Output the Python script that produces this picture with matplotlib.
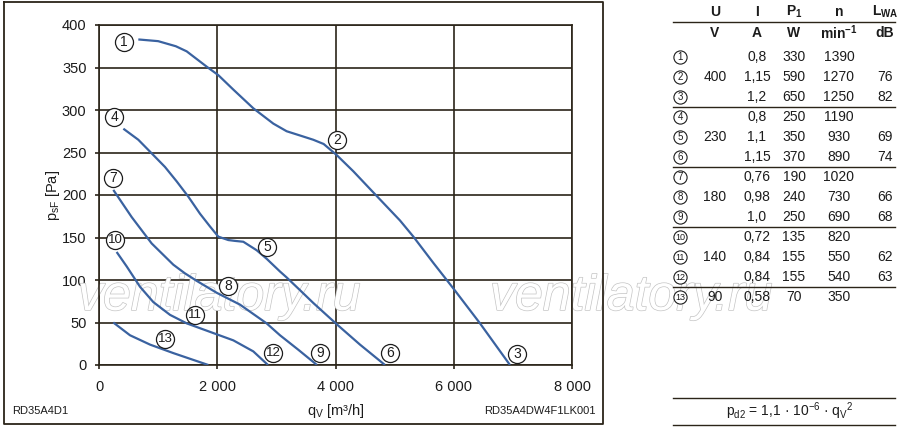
import numpy as np
import matplotlib.pyplot as plt
import matplotlib.patheffects as pe

plt.rcParams['font.family'] = ['Liberation Sans', 'DejaVu Sans']
plt.rcParams['mathtext.fontset'] = 'custom'
plt.rcParams['mathtext.rm'] = 'Liberation Sans'
plt.rcParams['mathtext.it'] = 'Liberation Sans:italic'
plt.rcParams['mathtext.bf'] = 'Liberation Sans:bold'

# curves (qv in m3/h, psF in Pa)
c1_x = [665, 1000, 1300, 1483, 1821, 2018, 2272, 2610, 2948, 3174, 3400, 3624, 3800, 4020, 4300,
        4640, 5091, 5317, 5656, 5994, 6444, 6951]
c1_y = [383, 381, 375, 369, 351, 341, 324, 302, 284, 275, 270, 265, 260, 247, 228,
        203, 170, 151, 120, 90, 49, 0]
c4_x = [412, 665, 891, 1116, 1314, 1511, 1708, 1877, 2018, 2187, 2300, 2441, 2667, 2835,
        3061, 3174, 3400, 3624, 4020, 4414, 4837]
c4_y = [278, 265, 249, 233, 216, 198, 178, 163, 151, 147, 146, 145, 135, 125,
        110, 103, 88, 73, 48, 24, 0]
c7_x = [242, 553, 891, 1257, 1450, 1652, 1990, 2385, 2835, 3061, 3370, 3687]
c7_y = [206, 174, 143, 118, 108, 99, 85, 71, 49, 35, 18, 0]
c10_x = [298, 468, 694, 919, 1201, 1483, 1877, 2272, 2610, 2858]
c10_y = [133, 116, 92, 74, 59, 49, 39, 29, 16, 0]
c13_x = [242, 524, 863, 1257, 1595, 1849]
c13_y = [50, 35, 24, 14, 6, 0]

# curve labels (number, qv, psF)
lbl_num = [1, 2, 3, 4, 5, 6, 7, 8, 9, 10, 11, 12, 13]
lbl_x = [423, 4025, 7070, 254, 2841, 4922, 237, 2185, 3738, 270, 1624, 2943, 1116]
lbl_y = [380, 265, 13, 292, 139, 14, 220, 93, 14, 147, 59, 14, 31]

# table
t_U = ['', '400', '', '', '230', '', '', '180', '', '', '140', '', '90']
t_I = ['0,8', '1,15', '1,2', '0,8', '1,1', '1,15', '0,76', '0,98', '1,0', '0,72', '0,84', '0,84', '0,58']
t_P = ['330', '590', '650', '250', '350', '370', '190', '240', '250', '135', '155', '155', '70']
t_n = ['1390', '1270', '1250', '1190', '930', '890', '1020', '730', '690', '820', '550', '540', '350']
t_L = ['', '76', '82', '', '69', '74', '', '66', '68', '', '62', '63', '']

blue = '#3a62a0'
dark = '#2b2419'
txt = '#1c1c1c'
narrow = ['Liberation Sans Narrow', 'Liberation Sans']

fig = plt.figure(figsize=(9, 4.29), dpi=100)
ax = fig.add_axes([99/900, 1-365/429, 473/900, 340/429])

# overlay in pixel coordinates for frame, table and watermark
ov = fig.add_axes([0, 0, 1, 1])
ov.set_xlim(0, 900)
ov.set_ylim(429, 0)
ov.axis('off')
ov.patch.set_alpha(0)

ax.set_xlim(0, 8000)
ax.set_ylim(0, 400)
ax.set_xticks([0, 2000, 4000, 6000, 8000])
ax.set_xticklabels(['0', '2 000', '4 000', '6 000', '8 000'])
ax.set_yticks(range(0, 401, 50))
ax.grid(True, color=dark, lw=1.2)
ax.tick_params(colors=dark, labelcolor=txt, labelsize=10.5, length=3, width=1.2, pad=6)
ax.tick_params(axis='x', pad=8)
for s in ax.spines.values():
    s.set_color(dark)
    s.set_linewidth(1.2)
ax.set_axisbelow(True)

ax.text(0.5, -0.135, r'q$_{\rm V}$ [m³/h]', transform=ax.transAxes, ha='center', va='center',
        fontsize=10.5, color=txt)
ax.text(-0.097, 0.5, r'p$_{\rm sF}$ [Pa]', transform=ax.transAxes, ha='center', va='center',
        rotation=90, fontsize=10.5, color=txt)

# watermark, between the grid and the curves
wm = [pe.Stroke(linewidth=1.0, foreground='#c4c4c4'), pe.Normal()]
for x0 in [78, 490]:
    ax.text(x0, 297, 'ventilatory.ru', transform=ov.transData, fontsize=36, style='italic',
            color='white', va='center', ha='left', path_effects=wm, zorder=2, clip_on=False)

for xs, ys in [(c1_x, c1_y), (c4_x, c4_y), (c7_x, c7_y), (c10_x, c10_y), (c13_x, c13_y)]:
    ax.plot(xs, ys, color=blue, lw=1.6, zorder=4, solid_capstyle='butt', solid_joinstyle='round')

for n, x, y in zip(lbl_num, lbl_x, lbl_y):
    ax.plot(x, y, 'o', ms=13, mfc='white', mec=txt, mew=0.9, zorder=5, clip_on=False)
    if n < 10:
        ax.text(x, y, str(n), ha='center', va='center', fontsize=10, color=txt, zorder=6)
    else:
        ax.text(x, y, str(n), ha='center', va='center', fontsize=9.5, color=txt, zorder=6,
                family=narrow)

ov.plot([4, 603, 603, 4, 4], [2, 2, 424, 424, 2], color=dark, lw=1.3)
ov.text(12, 411, 'RD35A4D1', fontsize=8, color=txt, va='center')
ov.text(596, 411, 'RD35A4DW4F1LK001', fontsize=8, color=txt, va='center', ha='right')

col_x = [715, 757, 794, 839, 885]
ov.text(col_x[0], 12, 'U', fontsize=10, weight='bold', ha='center', va='center', color=txt)
ov.text(col_x[1], 12, 'I', fontsize=10, weight='bold', ha='center', va='center', color=txt)
ov.text(col_x[2], 12, r'$\mathbf{P_1}$', fontsize=10, ha='center', va='center', color=txt)
ov.text(col_x[3], 12, 'n', fontsize=10, weight='bold', ha='center', va='center', color=txt)
ov.text(col_x[4], 12, r'$\mathbf{L_{WA}}$', fontsize=10, ha='center', va='center', color=txt)
ov.text(col_x[0], 33, 'V', fontsize=10, weight='bold', ha='center', va='center', color=txt)
ov.text(col_x[1], 33, 'A', fontsize=10, weight='bold', ha='center', va='center', color=txt)
ov.text(col_x[2], 33, 'W', fontsize=10, weight='bold', ha='center', va='center', color=txt)
ov.text(col_x[3], 33, r'$\mathbf{min^{-1}}$', fontsize=10, ha='center', va='center', color=txt)
ov.text(col_x[4], 33, 'dB', fontsize=10, weight='bold', ha='center', va='center', color=txt)
ov.plot([673, 895], [22, 22], color=dark, lw=1.0)

for i in range(13):
    y = 57 + 20 * i
    ov.plot(680, y, 'o', ms=9.5, mfc='white', mec=txt, mew=0.8)
    if i < 9:
        ov.text(680, y, str(i + 1), fontsize=7, ha='center', va='center', color=txt)
    else:
        ov.text(680, y, str(i + 1), fontsize=6.5, ha='center', va='center', color=txt,
                family=narrow)
    for cx, v in zip(col_x, [t_U[i], t_I[i], t_P[i], t_n[i], t_L[i]]):
        ov.text(cx, y, v, fontsize=10, ha='center', va='center', color=txt)

for y in [107, 167, 227, 287, 398, 425]:
    ov.plot([673, 895], [y, y], color=dark, lw=1.0)
ov.text(790, 411, r'p$_{\rm d2}$ = 1,1 · 10$^{-6}$ · q$_{\rm V}$$^{2}$', fontsize=10,
        ha='center', va='center', color=txt)

fig.savefig('out.png', dpi=100)
